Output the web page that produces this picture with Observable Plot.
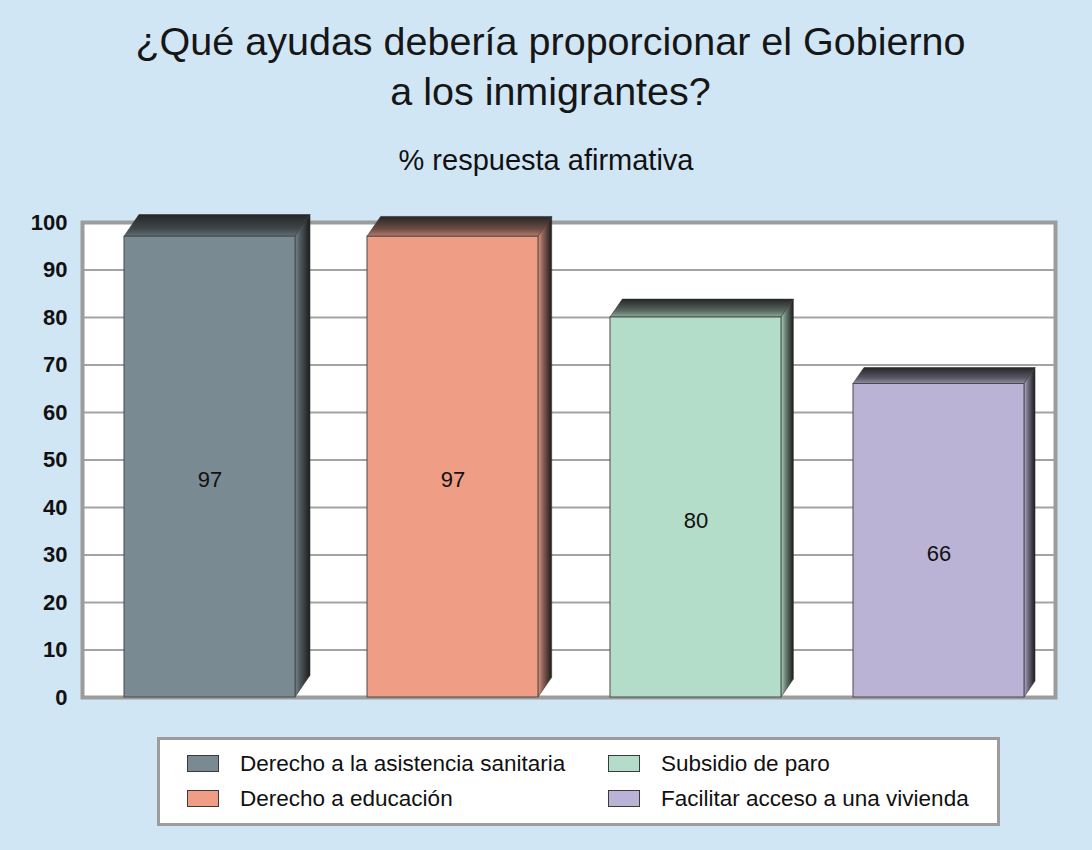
<!DOCTYPE html>
<html><head><meta charset="utf-8">
<script src="https://cdn.jsdelivr.net/npm/d3@7"></script>
<script src="https://cdn.jsdelivr.net/npm/@observablehq/plot@0.6"></script>
<style>
body{margin:0;background:#d1e6f5;font-family:Arial,"Liberation Sans",sans-serif;color:#111;}
#wrap{position:relative;width:1092px;height:850px;overflow:hidden;background:#d1e6f5}
#title{position:absolute;left:0;top:16px;width:1101px;text-align:center;font-size:39.5px;line-height:50px;color:#161616;}
#subtitle{position:absolute;left:0;top:143px;width:1092px;text-align:center;font-size:29px;line-height:34px;}
#chart{position:absolute;left:0;top:190px;}
#legendbox{position:absolute;left:157px;top:737px;width:843px;height:89px;box-sizing:border-box;border:3px solid #9c9c9c;background:#fff;}
.sw{position:absolute;width:32px;height:17px;box-sizing:border-box;border:1px solid #3a3a3a;}
.lt{position:absolute;font-size:22.5px;line-height:26px;white-space:nowrap;}
</style></head><body><div id="wrap">
<div id="title">¿Qué ayudas debería proporcionar el Gobierno<br>a los inmigrantes?</div>
<div id="subtitle">% respuesta afirmativa</div>
<div id="chart"></div>
<div id="legendbox"></div>
</div>
<script>
const categories = ["Derecho a la asistencia sanitaria","Derecho a educación","Subsidio de paro","Facilitar acceso a una vivienda"];
const values = [97, 97, 80, 66];
const colors = ["#798a93","#ef9d85","#b3ddc8","#bbb3d6"];
const yTicks = [0,10,20,30,40,50,60,70,80,90,100];

const data = categories.map((c,i)=>({cat:c, value:values[i]}));

function render3d(index, scales, vals, dimensions, context, next) {
  const g = next(index, scales, vals, dimensions, context);
  const ns = "http://www.w3.org/2000/svg";
  const doc = context.document;
  const defs = doc.createElementNS(ns,"defs");
  const rects = Array.from(g.querySelectorAll("rect"));
  rects.forEach((r,k) => {
    const x = +r.getAttribute("x"), y = +r.getAttribute("y");
    const w = +r.getAttribute("width"), h = +r.getAttribute("height");
    const fill = r.getAttribute("fill");
    const mix = t => d3.interpolateRgb(fill, "#1a1a1a")(t);
    const dx = 15 - (x - 122) * 4 / 731, dy = dx * 1.45;
    function grad(id, x2, y1, stops){
      const lg = doc.createElementNS(ns,"linearGradient");
      lg.setAttribute("id", id);
      lg.setAttribute("x1", 0); lg.setAttribute("y1", y1);
      lg.setAttribute("x2", x2); lg.setAttribute("y2", 0);
      stops.forEach(([o,c])=>{
        const s = doc.createElementNS(ns,"stop");
        s.setAttribute("offset", o); s.setAttribute("stop-color", c);
        lg.appendChild(s);
      });
      defs.appendChild(lg);
    }
    grad("top3d"+k, 0, 1, [[0, mix(0.25)],[0.35, mix(0.6)],[1, "#262626"]]);
    grad("side3d"+k, 1, 0, [[0, mix(0.05)],[0.35, mix(0.45)],[1, "#1c1c1c"]]);
    const top = doc.createElementNS(ns,"polygon");
    top.setAttribute("points", `${x},${y} ${x+dx},${y-dy} ${x+w+dx},${y-dy} ${x+w},${y}`);
    top.setAttribute("fill", `url(#top3d${k})`);
    top.setAttribute("stroke", "#333"); top.setAttribute("stroke-width", 0.6);
    const side = doc.createElementNS(ns,"polygon");
    side.setAttribute("points", `${x+w},${y} ${x+w+dx},${y-dy} ${x+w+dx},${y+h-dy} ${x+w},${y+h}`);
    side.setAttribute("fill", `url(#side3d${k})`);
    side.setAttribute("stroke", "#333"); side.setAttribute("stroke-width", 0.6);
    g.insertBefore(top, r);
    g.insertBefore(side, r);
  });
  g.insertBefore(defs, g.firstChild);
  return g;
}

const chart = Plot.plot({
  width: 1092, height: 530,
  marginTop: 32, marginBottom: 23, marginLeft: 82, marginRight: 37,
  style: {fontFamily: "Arial, 'Liberation Sans', sans-serif", background: "transparent", color: "#111", overflow: "visible"},
  x: {domain: categories, padding: 0, axis: null},
  y: {domain: [0, 100], axis: null},
  color: {domain: categories, range: colors},
  marks: [
    Plot.frame({fill: "white", stroke: null}),
    Plot.ruleY(yTicks.slice(1, -1), {stroke: "#a3a3a3", strokeWidth: 2}),
    Plot.frame({stroke: "#9c9c9c", strokeWidth: 4}),
    Plot.barY(data, {x: "cat", y: "value", fill: "cat", insetLeft: 41, insetRight: 31, stroke: "#4a4a4a", strokeWidth: 1, render: render3d}),
    Plot.text(data, {x: "cat", y: d => d.value / 2, text: d => String(d.value), dx: 5, dy: 13, fontSize: 22, fill: "#111"}),
    Plot.axisY({ticks: yTicks, tickSize: 0, tickPadding: 15, fontSize: 22, fontWeight: "bold", label: null, tickFormat: d => String(d)})
  ]
});
document.getElementById("chart").appendChild(chart);

// legend
const wrap = document.getElementById("wrap");
const pos = [[187, 755], [187, 790], [608, 755], [608, 790]];
categories.forEach((c, i) => {
  const [lx, ly] = pos[i];
  const sw = document.createElement("div");
  sw.className = "sw";
  sw.style.left = lx + "px"; sw.style.top = ly + "px";
  sw.style.background = colors[i];
  wrap.appendChild(sw);
  const t = document.createElement("div");
  t.className = "lt";
  t.style.left = (lx + 53) + "px"; t.style.top = (ly - 4) + "px";
  t.textContent = c;
  wrap.appendChild(t);
});
</script>
</body></html>
